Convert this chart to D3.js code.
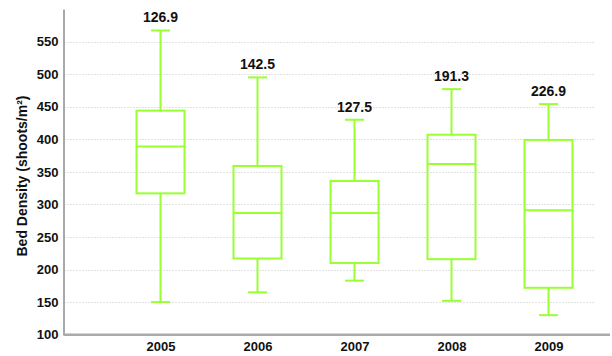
<!DOCTYPE html>
<html>
<head>
<meta charset="utf-8">
<script src="https://cdn.jsdelivr.net/npm/d3@7"></script>
<style>
	body { margin: 0; background: #fff; }
	text { font-family: "Liberation Sans", Arial, sans-serif; font-weight: bold; fill: #111; }
</style>
</head>
<body>
<svg id="chart" width="612" height="356"></svg>
<script>
var years = ["2005", "2006", "2007", "2008", "2009"];
var whiskerHigh = [567, 495, 430, 477, 454];
var q3 = [444, 359, 336, 407, 399];
var medians = [389, 287, 287, 362, 291];
var q1 = [317, 217, 210, 216, 172];
var whiskerLow = [150, 165, 183, 152, 130];
var topLabels = ["126.9", "142.5", "127.5", "191.3", "226.9"];
var yTicks = [100, 150, 200, 250, 300, 350, 400, 450, 500, 550];

var BOX_COLOR = "#99ff33";
var BOX_WIDTH = 48;
var CAP_WIDTH = 19;

var svg = d3.select("#chart");

var x = d3.scalePoint().domain(years).range([63.5, 645.5]).padding(1);
var y = d3.scaleLinear().domain([100, 600]).range([334.7, 9]);

var boxes = years.map(function(year, i) {
	return { year: year, hi: whiskerHigh[i], q3: q3[i], med: medians[i], q1: q1[i], lo: whiskerLow[i], label: topLabels[i] };
});

// grid
svg.append("g").selectAll("line.grid")
	.data(yTicks.filter(function(t) { return t > 100; }))
	.enter().append("line")
	.attr("x1", 64).attr("x2", 595)
	.attr("y1", function(d) { return Math.round(y(d)) + 0.5; })
	.attr("y2", function(d) { return Math.round(y(d)) + 0.5; })
	.attr("stroke", "#e2e2e2").attr("stroke-width", 1).attr("stroke-dasharray", "2,1");

// y axis
var yAxis = svg.append("g")
	.attr("transform", "translate(63.5,0)")
	.call(d3.axisLeft(y).tickValues(yTicks).tickSize(0).tickPadding(5));
yAxis.select(".domain").attr("stroke", "#aaa").attr("stroke-width", 2);
yAxis.selectAll("text").style("font-size", "13px").style("font-weight", "bold").attr("fill", "#111")
	.attr("font-family", null);

// x axis
var xAxis = svg.append("g")
	.attr("transform", "translate(0," + y(100) + ")")
	.call(d3.axisBottom(x).tickSize(0).tickPadding(7));
xAxis.select(".domain").attr("d", "M63.5,0H610").attr("stroke", "#aaa").attr("stroke-width", 2.5);
xAxis.selectAll("text").style("font-size", "13px").style("font-weight", "bold").attr("fill", "#111")
	.attr("font-family", null);

svg.append("text")
	.attr("transform", "translate(27,176) rotate(-90)")
	.attr("text-anchor", "middle")
	.style("font-size", "14px")
	.text("Bed Density (shoots/m²)");

svg.append("g").selectAll("g.box")
	.data(boxes)
	.enter().append("g")
	.attr("class", "box")
	.each(function(d) {
		var cx = x(d.year);
		var sel = d3.select(this);
		sel.append("line")
			.attr("x1", cx).attr("x2", cx)
			.attr("y1", y(d.hi)).attr("y2", y(d.q3));
		sel.append("line")
			.attr("x1", cx).attr("x2", cx)
			.attr("y1", y(d.q1)).attr("y2", y(d.lo));
		sel.append("line")
			.attr("x1", cx - CAP_WIDTH / 2).attr("x2", cx + CAP_WIDTH / 2)
			.attr("y1", y(d.hi)).attr("y2", y(d.hi));
		sel.append("line")
			.attr("x1", cx - CAP_WIDTH / 2).attr("x2", cx + CAP_WIDTH / 2)
			.attr("y1", y(d.lo)).attr("y2", y(d.lo));
		sel.append("rect")
			.attr("x", cx - BOX_WIDTH / 2).attr("width", BOX_WIDTH)
			.attr("y", y(d.q3)).attr("height", y(d.q1) - y(d.q3))
			.attr("fill", "none");
		sel.append("line")
			.attr("x1", cx - BOX_WIDTH / 2).attr("x2", cx + BOX_WIDTH / 2)
			.attr("y1", y(d.med)).attr("y2", y(d.med));
		sel.selectAll("line, rect").attr("stroke", BOX_COLOR).attr("stroke-width", 2);
		sel.append("text")
			.attr("x", cx).attr("y", y(d.hi) - 8)
			.attr("text-anchor", "middle")
			.style("font-size", "14px")
			.text(d.label);
	});
</script>
</body>
</html>
